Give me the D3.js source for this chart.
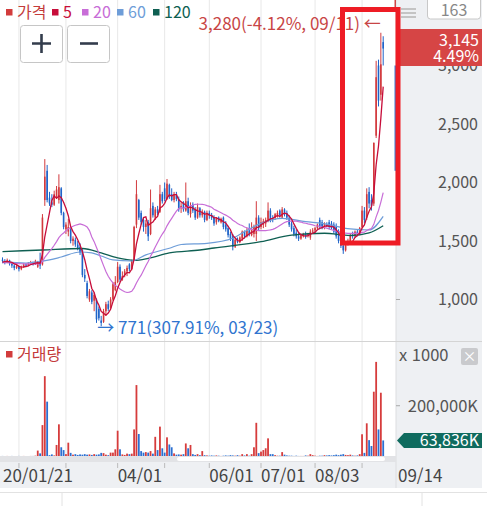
<!DOCTYPE html>
<html lang="ko">
<head>
<meta charset="UTF-8" />
<title>가격 / 거래량</title>
<script src="https://d3js.org/d3.v7.min.js"></script>
<style>
  body { margin: 0; background: #fff; }
  svg { display: block; font-family: "Noto Sans CJK KR", "Noto Sans", sans-serif; }
</style>
</head>
<body>
<svg id="chart" width="487" height="506"></svg>
<script>
// daily candles, 2020-01-21 .. 2020-09-14 (163 trading days)
const opens = [1340,1330,1315,1335,1310,1290,1270,1285,1260,1275,
  1300,1290,1310,1320,1300,1280,1320,1300,1850,2100,
  1870,1830,1810,1880,1850,1950,1740,1600,1580,1600,
  1500,1510,1470,1450,1420,1210,1140,1000,1060,990,
  1000,920,820,810,900,960,930,1000,1080,1150,
  1280,1170,1210,1240,1300,1260,1340,1640,1850,1740,
  1680,1620,1660,1560,1800,1700,1770,1750,1900,1950,
  1860,1980,1900,1850,1900,1860,1780,1830,1760,1840,
  1730,1810,1770,1700,1780,1720,1750,1680,1740,1720,
  1700,1660,1700,1660,1700,1640,1610,1560,1540,1450,
  1520,1490,1520,1580,1540,1590,1550,1560,1560,1700,
  1620,1640,1650,1680,1760,1690,1700,1720,1760,1700,
  1770,1740,1700,1650,1610,1570,1540,1520,1540,1560,
  1550,1530,1580,1590,1610,1680,1660,1620,1640,1660,
  1650,1640,1620,1580,1500,1460,1420,1480,1500,1550,
  1540,1580,1560,1620,1760,1700,1920,1850,1820,2400,
  3000,2750,3200];
const highs = [1360,1345,1350,1340,1320,1300,1300,1290,1290,1310,
  1310,1320,1330,1325,1340,1330,1400,1730,2200,2150,
  1920,1900,1930,1970,2070,1960,1750,1660,1690,1610,
  1540,1530,1500,1480,1430,1260,1160,1090,1080,1060,
  1010,940,860,920,980,990,1020,1150,1200,1320,
  1300,1240,1260,1290,1310,1340,1630,2020,1860,1760,
  1700,1680,1680,1940,1830,1790,1800,1980,1920,2000,
  2030,1990,1950,1920,1920,1880,1830,1840,2000,1870,
  1830,1830,1790,1820,1790,1770,1760,1760,1760,1740,
  1720,1700,1710,1700,1710,1670,1630,1580,1560,1520,
  1530,1540,1590,1590,1610,1650,1660,1640,1840,1720,
  1700,1690,1700,1830,1780,1720,1740,1760,1770,1790,
  1780,1760,1720,1670,1630,1600,1570,1560,1570,1580,
  1570,1600,1610,1620,1650,1700,1680,1660,1660,1680,
  1670,1660,1650,1600,1520,1480,1500,1520,1560,1580,
  1590,1600,1620,1800,1790,1950,1960,1900,2340,3040,
  3050,3280,3250];
const lows = [1310,1300,1310,1290,1270,1250,1260,1240,1250,1270,
  1280,1285,1300,1290,1295,1270,1260,1290,1800,1830,
  1800,1790,1800,1860,1820,1720,1600,1560,1540,1480,
  1460,1450,1420,1380,1190,1150,1010,980,960,900,
  800,820,771,800,860,900,920,990,1070,1140,
  1150,1160,1190,1200,1240,1250,1330,1610,1680,1640,
  1580,1560,1500,1550,1700,1680,1720,1740,1820,1840,
  1850,1860,1840,1830,1840,1750,1740,1750,1750,1720,
  1700,1740,1680,1690,1700,1700,1660,1670,1690,1680,
  1630,1640,1660,1650,1600,1580,1530,1500,1420,1440,
  1480,1480,1500,1520,1530,1540,1540,1530,1500,1590,
  1600,1610,1620,1660,1660,1660,1680,1700,1700,1690,
  1710,1680,1620,1580,1540,1520,1500,1510,1530,1520,
  1530,1510,1560,1560,1600,1600,1600,1600,1620,1600,
  1600,1560,1520,1480,1440,1390,1410,1460,1490,1520,
  1530,1540,1550,1610,1650,1680,1780,1760,1800,2380,
  2650,2700,3000];
const closes = [1330,1320,1335,1310,1290,1270,1285,1260,1275,1300,
  1290,1310,1320,1300,1330,1310,1290,1700,2050,1850,
  1820,1810,1900,1940,1960,1740,1620,1640,1620,1500,
  1520,1470,1440,1400,1210,1180,1030,1070,980,1040,
  830,840,800,900,960,920,1000,1130,1150,1280,
  1170,1200,1240,1270,1260,1330,1620,1900,1700,1660,
  1620,1650,1540,1780,1720,1770,1740,1900,1840,1860,
  1990,1880,1850,1900,1860,1770,1800,1770,1840,1740,
  1800,1760,1700,1790,1720,1750,1680,1740,1720,1700,
  1650,1690,1670,1690,1620,1600,1550,1520,1450,1510,
  1490,1530,1580,1540,1590,1560,1600,1620,1700,1610,
  1660,1670,1680,1760,1680,1680,1730,1740,1720,1770,
  1730,1700,1640,1600,1560,1540,1520,1550,1560,1540,
  1560,1580,1590,1610,1640,1620,1610,1650,1630,1620,
  1610,1580,1540,1500,1460,1420,1480,1500,1550,1540,
  1580,1560,1610,1760,1680,1900,1820,1800,2340,2900,
  2700,3010,3145];
// volume in K
const volumes = [3000,2000,3000,2500,3000,2000,2500,3000,2000,3000,
  2500,2000,3000,3000,4000,24000,13000,124000,316000,216000,
  6000,9000,5000,46000,127000,37000,26000,10000,55000,15000,
  8000,10000,7000,9000,8000,10000,8000,9000,7000,10000,
  8000,9000,15000,14000,8000,6000,16000,16000,29000,102000,
  29000,9000,7000,12000,10000,12000,107000,281000,89000,22000,
  16000,18000,16000,22000,12000,78000,26000,118000,33000,16000,
  76000,48000,37000,13000,8000,9000,8000,10000,52000,33000,
  46000,10000,7000,10000,6000,22000,6000,5000,4000,5000,
  4000,5000,4000,3000,4000,5000,4000,6000,5000,4000,
  6000,4000,10000,5000,10000,4000,10000,37000,133000,14000,
  20000,26000,33000,72000,10000,10000,6000,4000,4000,18000,
  8000,5000,4000,4000,3000,4000,3000,3000,3000,5000,
  4000,10000,6000,4000,3000,4000,4000,6000,5000,6000,
  5000,6000,8000,6000,8000,10000,7000,6000,8000,5000,
  4000,5000,10000,88000,15000,131000,65000,42000,255000,372000,
  107000,251000,63836];
// closes before the first visible day, used by the short averages
const preCloses = [1340,1330,1320,1335,1310,1300,1290,1310,1320,1305,1295,1300,1315,1325,1310,1300,1320,1330,1315];

// long averages
const ma60Idx = [0,10,20,25,33,38,42,47,55,61,71,76,87,98,103,110,119,129,136,148,156,162];
const ma60Val = [1321,1312,1338,1363,1406,1398,1372,1338,1329,1381,1438,1470,1480,1523,1580,1651,1694,1665,1651,1603,1594,1710];
const ma120Idx = [0,17,34,42,49,56,62,71,84,90,110,123,137,148,156,162];
const ma120Val = [1410,1423,1436,1398,1355,1334,1351,1398,1423,1440,1494,1551,1566,1547,1569,1630];

const monthStarts = [7, 27, 49, 69, 88, 110, 133, 153];
const tickIdx = [0, 49, 88, 110, 133];
const tickText = ["20/01/21", "04/01", "06/01", "07/01", "08/03"];
const lastDate = "09/14";
const priceTicks = [1000, 1500, 2000, 2500, 3000];
const volTicks = [200000];
const legendNames = ["가격", "5", "20", "60", "120"];
const legendColors = ["#d23c3c", "#c70d3a", "#c86dd7", "#6e9dd8", "#0e5f52"];
const hiIdx = 161, hiText = "3,280(-4.12%, 09/11) ←";
const loIdx = 42, loText = "→ 771(307.91%, 03/23)";
const lastPrice = "3,145", lastPct = "4.49%", lastVol = "63,836K";
const barCount = "163";
const rangeHi = 3000, rangeLo = 2100; // blue range mark on the axis edge

const svg = d3.select("#chart");
const W = 487, plotR = 396, panelR = 482;
const upC = "#d2393d", downC = "#1f63c8";

const x = d3.scaleLinear().domain([0, closes.length - 1]).range([2.5, 383.2]);
const y = d3.scaleLinear().domain([653.8, 3559.8]).range([340, 0]);
const yv = d3.scaleLinear().domain([0, 450000]).range([456.7, 342]);

// moving averages from closes
const allC = preCloses.concat(closes);
function movingAvg(n) {
  return closes.map((c, i) => {
    const end = preCloses.length + i;
    const win = allC.slice(Math.max(0, end - n + 1), end + 1);
    return d3.mean(win);
  });
}
const ma5 = movingAvg(5), ma20 = movingAvg(20);

// backgrounds
svg.append("rect").attr("x", 0).attr("y", 0).attr("width", W).attr("height", 506).attr("fill", "#fff");
svg.append("rect").attr("x", plotR).attr("y", 0).attr("width", panelR - plotR).attr("height", 488).attr("fill", "#eef0f3");
svg.append("rect").attr("x", 0).attr("y", 462).attr("width", panelR).attr("height", 26).attr("fill", "#eef0f3");
svg.append("line").attr("x1", plotR).attr("x2", plotR).attr("y1", 0).attr("y2", 488).attr("stroke", "#dcdde0");

// month grid
svg.append("g").selectAll("line").data(monthStarts).join("line")
  .attr("x1", d => x(d)).attr("x2", d => x(d))
  .attr("y1", 0).attr("y2", 456)
  .attr("stroke", "#e8e8e8");

// panel divider
svg.append("line").attr("x1", 0).attr("x2", panelR).attr("y1", 341.5).attr("y2", 341.5).attr("stroke", "#d4d4d4");

const plot = svg.append("g");

// candles
const idx = d3.range(closes.length);
const colorOf = i => closes[i] >= opens[i] ? upC : downC;
plot.append("g").selectAll("line").data(idx).join("line")
  .attr("x1", i => x(i)).attr("x2", i => x(i))
  .attr("y1", i => y(highs[i])).attr("y2", i => y(lows[i]))
  .attr("stroke", colorOf).attr("stroke-width", 1);
plot.append("g").selectAll("rect").data(idx).join("rect")
  .attr("x", i => x(i) - 0.8).attr("width", 1.6)
  .attr("y", i => y(Math.max(opens[i], closes[i])))
  .attr("height", i => Math.max(1, Math.abs(y(opens[i]) - y(closes[i]))))
  .attr("fill", colorOf);

// average lines
const lineIdx = (vals) => d3.line().x((d, k) => x(k)).y(d => y(d))(vals);
const lineKey = (ix, vals) => d3.line().curve(d3.curveMonotoneX)
  .x(d => x(d[0])).y(d => y(d[1]))(ix.map((k, j) => [k, vals[j]]));
plot.append("path").attr("d", lineKey(ma120Idx, ma120Val)).attr("fill", "none").attr("stroke", legendColors[4]).attr("stroke-width", 1.3);
plot.append("path").attr("d", lineKey(ma60Idx, ma60Val)).attr("fill", "none").attr("stroke", legendColors[3]).attr("stroke-width", 1.2);
plot.append("path").attr("d", lineIdx(ma20)).attr("fill", "none").attr("stroke", legendColors[2]).attr("stroke-width", 1.2);
plot.append("path").attr("d", lineIdx(ma5)).attr("fill", "none").attr("stroke", legendColors[1]).attr("stroke-width", 1.3);

// volume bars
plot.append("g").selectAll("rect").data(idx).join("rect")
  .attr("x", i => x(i) - 0.9).attr("width", 1.8)
  .attr("y", i => yv(volumes[i]))
  .attr("height", i => yv(0) - yv(volumes[i]))
  .attr("fill", i => closes[i] >= opens[i] ? "#d63c3c" : "#2b6fd1");

// scroll bar
svg.append("rect").attr("x", 0).attr("y", 456).attr("width", plotR).attr("height", 6).attr("fill", "#e2e3e6");
svg.append("rect").attr("x", 177).attr("y", 457).attr("width", 208).attr("height", 4).attr("rx", 2).attr("fill", "#fff");

// range marks on the axis edge
svg.append("rect").attr("x", 394.5).attr("y", y(rangeHi)).attr("width", 2).attr("height", y(rangeLo) - y(rangeHi)).attr("fill", "#3b7fd6");
svg.append("rect").attr("x", 394.5).attr("y", 0).attr("width", 1.5).attr("height", 9).attr("fill", "#d04545");

// price axis
svg.append("g").selectAll("line").data(priceTicks).join("line")
  .attr("x1", plotR).attr("x2", plotR + 4).attr("y1", d => y(d)).attr("y2", d => y(d)).attr("stroke", "#aaa");
svg.append("g").selectAll("text").data(priceTicks).join("text")
  .attr("x", 478).attr("y", d => y(d) + 6).attr("text-anchor", "end")
  .attr("font-size", 16).attr("fill", "#555").text(d3.format(","));

// volume axis
svg.append("g").selectAll("line").data(volTicks).join("line")
  .attr("x1", plotR).attr("x2", plotR + 4).attr("y1", d => yv(d)).attr("y2", d => yv(d)).attr("stroke", "#aaa");
svg.append("g").selectAll("text").data(volTicks).join("text")
  .attr("x", 478).attr("y", d => yv(d) + 6).attr("text-anchor", "end")
  .attr("font-size", 16.5).attr("fill", "#555").text(d => d3.format(",")(d) + "K");
svg.append("text").attr("x", 399).attr("y", 361).attr("font-size", 16.5).attr("fill", "#555").text("x 1000");
svg.append("rect").attr("x", 461).attr("y", 348).attr("width", 17).attr("height", 17).attr("rx", 2).attr("fill", "#c9cacd");
svg.append("text").attr("x", 469.5).attr("y", 361).attr("text-anchor", "middle").attr("font-size", 14).attr("fill", "#fff").text("×");

// current volume tag
const tv = yv(63836);
svg.append("path")
  .attr("d", `M397,${tv} L404,${tv - 7.5} L482,${tv - 7.5} L482,${tv + 7.5} L404,${tv + 7.5} Z`)
  .attr("fill", "#0f6b5e");
svg.append("text").attr("x", 479).attr("y", tv + 5.5).attr("text-anchor", "end")
  .attr("font-size", 16).attr("fill", "#fff").text(lastVol);

// current price tag
svg.append("rect").attr("x", 397).attr("y", 29).attr("width", 85).attr("height", 37).attr("fill", "#d64545");
svg.append("text").attr("x", 479).attr("y", 46).attr("text-anchor", "end").attr("font-size", 16).attr("fill", "#fff").text(lastPrice);
svg.append("text").attr("x", 479).attr("y", 62).attr("text-anchor", "end").attr("font-size", 16).attr("fill", "#fff").text(lastPct);

// bar count box and menu icon
svg.append("rect").attr("x", 427.5).attr("y", -3).attr("width", 53).attr("height", 22).attr("rx", 3)
  .attr("fill", "#fff").attr("stroke", "#c8c8c8");
svg.append("text").attr("x", 454).attr("y", 16).attr("text-anchor", "middle").attr("font-size", 16).attr("fill", "#888").text(barCount);
svg.append("g").selectAll("line").data([9, 13, 17]).join("line")
  .attr("x1", 401).attr("x2", 416).attr("y1", d => d).attr("y2", d => d)
  .attr("stroke", "#c4c4c4").attr("stroke-width", 2);

// x axis
svg.append("g").selectAll("line").data(monthStarts).join("line")
  .attr("x1", d => x(d)).attr("x2", d => x(d)).attr("y1", 463).attr("y2", 468).attr("stroke", "#bbb");
svg.append("g").selectAll("text").data(tickIdx).join("text")
  .attr("x", d => Math.max(3, x(d))).attr("y", 482)
  .attr("font-size", 17).attr("fill", "#444").text((d, k) => tickText[k]);
svg.append("text").attr("x", 398).attr("y", 482).attr("font-size", 17).attr("fill", "#444").text(lastDate);

// bottom strip
svg.append("line").attr("x1", 0).attr("x2", W).attr("y1", 492.5).attr("y2", 492.5).attr("stroke", "#e2e2e2");
svg.append("line").attr("x1", 62).attr("x2", 62).attr("y1", 492).attr("y2", 506).attr("stroke", "#e2e2e2");
svg.append("line").attr("x1", 422).attr("x2", 422).attr("y1", 492).attr("y2", 506).attr("stroke", "#e2e2e2");

// legend
const legX = [6, 52, 82, 117, 153];
legendNames.forEach((n, k) => {
  svg.append("rect").attr("x", legX[k]).attr("y", 9).attr("width", 6.5).attr("height", 6.5).attr("fill", legendColors[k]);
  svg.append("text").attr("x", legX[k] + 11).attr("y", 18).attr("font-size", 16)
    .attr("fill", k === 0 ? "#c43b3b" : legendColors[k]).text(n);
});
svg.append("rect").attr("x", 6).attr("y", 351).attr("width", 6.5).attr("height", 6.5).attr("fill", "#d23c3c");
svg.append("text").attr("x", 17).attr("y", 360).attr("font-size", 16).attr("fill", "#c43b3b").text("거래량");

// zoom buttons
[[20, "M32,43.5 H51 M41.5,34 V53"], [67, "M80,43.5 H98"]].forEach(b => {
  svg.append("rect").attr("x", b[0] + 0.5).attr("y", 25.5).attr("width", 42).attr("height", 37).attr("rx", 3)
    .attr("fill", "#fff").attr("stroke", "#c6c6c6");
  svg.append("path").attr("d", b[1]).attr("stroke", "#333c4c").attr("stroke-width", 2.6).attr("fill", "none");
});

// high / low notes
svg.append("text").attr("x", x(hiIdx)).attr("y", y(3280) - 3).attr("text-anchor", "end")
  .attr("font-size", 17).attr("fill", "#c84545").text(hiText);
svg.append("text").attr("x", x(loIdx) - 4).attr("y", y(771) + 8)
  .attr("font-size", 17).attr("fill", "#2f74cf").text(loText);

// highlight box
svg.append("rect").attr("x", 342.5).attr("y", 9.5).attr("width", 55.5).attr("height", 233.5)
  .attr("fill", "none").attr("stroke", "#ee1c25").attr("stroke-width", 5);
</script>
</body>
</html>
